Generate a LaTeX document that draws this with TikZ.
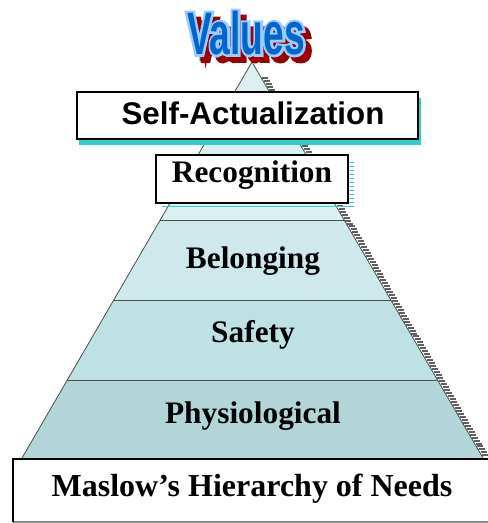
\documentclass[tikz,border=0pt]{standalone}
\usepackage{fontspec}
\setmainfont{Liberation Serif}
\setsansfont{Liberation Sans}
\newfontfamily\valfont[FakeStretch=0.62]{Liberation Sans Bold}
\newfontfamily\valrimfont[FakeStretch=0.62,FakeBold=8]{Liberation Sans Bold}
\usetikzlibrary{calc,patterns}
\definecolor{tipband}{RGB}{221,240,241}
\definecolor{belongband}{RGB}{206,233,235}
\definecolor{safeband}{RGB}{190,225,228}
\definecolor{bodyband}{RGB}{178,214,216}
\definecolor{boxshade}{RGB}{51,204,204}
\definecolor{valblue}{RGB}{0,102,204}
\definecolor{valrim}{RGB}{153,204,255}
\definecolor{valshade}{RGB}{153,0,0}
\tikzset{
divider/.style={draw=black!70,line width=0.6pt},
flank/.style={draw=black!62,line width=1.5pt},
labelbox/.style={draw,line width=1.3pt,fill=white},
level/.style={font=\fontsize{23.5}{26}\selectfont\bfseries,inner sep=0pt,anchor=base},
toplevel/.style={font=\fontsize{23.5}{26}\selectfont\sffamily\bfseries,inner sep=0pt,anchor=base},
titlefont/.style={inner sep=0pt}
}

\begin{document}
\begin{tikzpicture}[x=0.75pt,y=-0.75pt]
\useasboundingbox (0,0) rectangle (487,523);
\coordinate (apex) at (252,62);
\coordinate (bl) at (22,458);
\coordinate (br) at (483,458);

% pyramid bands, top to bottom
\foreach \from/\to/\col in {0/0.399/tipband,0.399/0.601/belongband,0.601/0.803/safeband,0.803/1/bodyband}
  \fill[\col] ($(apex)!\from!(bl)$) -- ($(apex)!\from!(br)$) -- ($(apex)!\to!(br)$) -- ($(apex)!\to!(bl)$) -- cycle;
% striped shadow on the right flank
\foreach \t in {0.04,0.0475,...,0.995}
  \draw[flank] ($(apex)!\t!(br)$) ++(1,0) -- ++(6,0);
\foreach \t in {0.399,0.601,0.803}
  \draw[divider] ($(apex)!\t!(bl)$) -- ($(apex)!\t!(br)$);
\draw[divider] (bl) -- (apex) -- (br);

% boxes laid over the top of the pyramid
\fill[boxshade] (79,98) rectangle (421,145);
\draw[labelbox] (77,92) rectangle (418,139);
\fill[pattern=horizontal lines,pattern color=boxshade] (162,160) rectangle (354,208);
\draw[labelbox] (156,155) rectangle (348,203);

\node[toplevel] (selfact) at (253,125) {Self-Actualization};
\node[level] (recog) at (252,183) {Recognition};
\node[level] (belong) at (253,268) {Belonging};
\node[level] (safety) at (253,342) {Safety};
\node[level] (physio) at (253,423) {Physiological};

% caption box at the foot
\fill[white] (13,459) rectangle (490,522);
\draw[black!45,line width=0.8pt] (13,522) -- (490,522);
\draw[line width=1.3pt] (490,459) -- (13,459) -- (13,522);
\node[level,font=\fontsize{24}{26}\selectfont\bfseries] (caption) at (252,496) {Maslow’s Hierarchy of Needs};

% title: red drop shadow, light rim, blue face
\coordinate (title) at (246,33);
\node[titlefont,text=valshade,font=\valrimfont\fontsize{45}{48}\selectfont] (valshadow) at ($(title)+(6,6)$) {Values};
\node[titlefont,text=valrim,font=\valrimfont\fontsize{45}{48}\selectfont] (valrim) at (title) {Values};
\node[titlefont,text=valblue,font=\valfont\fontsize{45}{48}\selectfont] (values) at (title) {Values};
\end{tikzpicture}
\end{document}
